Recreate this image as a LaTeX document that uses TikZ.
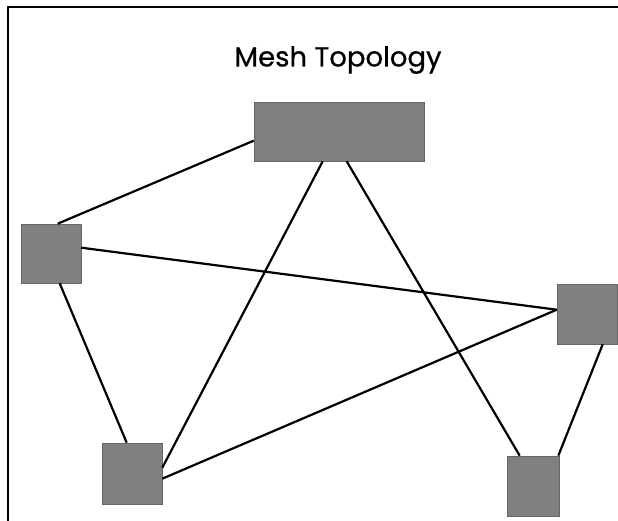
\documentclass[tikz,border=0pt]{standalone}
\usepackage{fontspec}
\setmainfont{Liberation Sans}
\newfontfamily\titlefont{Poppins}[FakeBold=0.6]
\begin{document}
\begin{tikzpicture}[x=1pt,y=-1pt,
  station/.style={draw=black!60, line width=0.6pt, fill=black!50, minimum width=#1, inner sep=0pt},
  link/.style={line width=2.2pt, black}]
\useasboundingbox (0,0) rectangle (618,521);
% frame
\draw[line width=2pt] (8,521) -- (8,7) -- (618,7);
% title
\node (title) at (338,60) {\titlefont\fontsize{27.5}{31}\selectfont Mesh Topology};
% stations
\node[station=170pt, minimum height=59pt] (hub) at (339,131.5) {};
\node[station=60pt, minimum height=59pt] (west) at (51,253.5) {};
\node[station=60pt, minimum height=60pt] (east) at (587,314) {};
\node[station=60pt, minimum height=61pt] (sw) at (132,473.5) {};
\node[station=52pt, minimum height=60pt] (se) at (533,486) {};
% links (yshift is in page direction: negative goes down)
\draw[link] ([yshift=-39pt]hub.north west) -- ([xshift=37pt]west.north west);
\draw[link] ([yshift=-24pt]west.north east) -- ([yshift=-26pt]east.north west);
\draw[link] ([xshift=39pt]west.south west) -- ([xshift=25pt]sw.north west);
\draw[link] ([xshift=69pt]hub.south west) -- ([yshift=-25pt]sw.north east);
\draw[link] ([xshift=93pt]hub.south west) -- ([xshift=13pt]se.north west);
\draw[link] ([yshift=-26pt]east.north west) -- ([yshift=-36pt]sw.north east);
\draw[link] ([xshift=46pt]east.south west) -- ([xshift=-1pt]se.north east);
\end{tikzpicture}
\end{document}
